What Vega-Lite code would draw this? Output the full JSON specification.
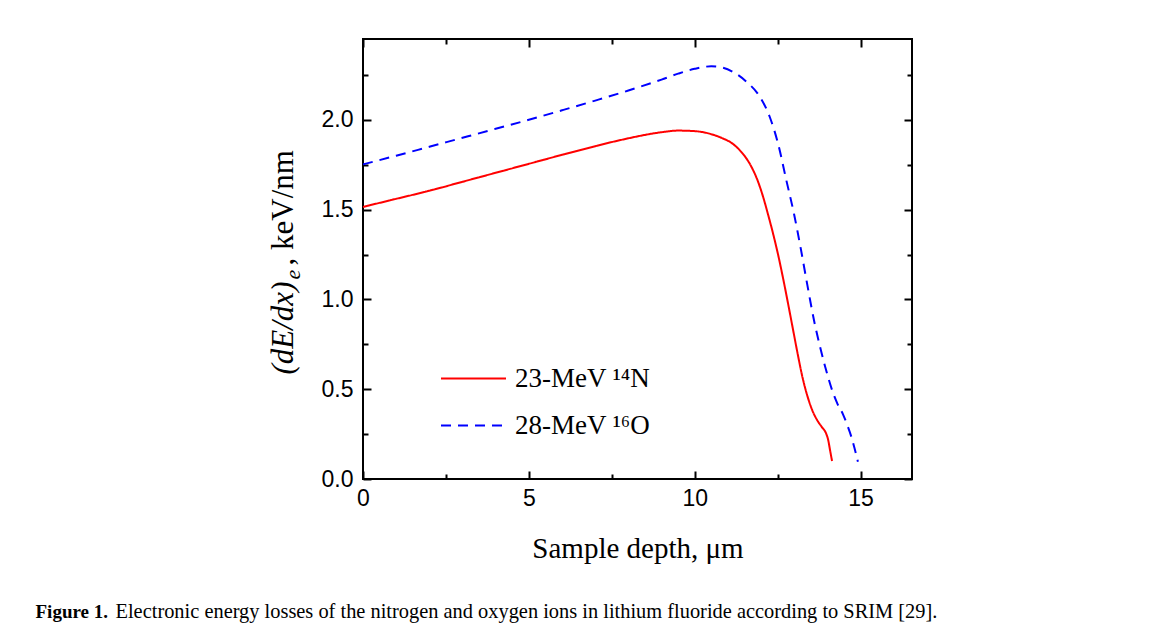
{
  "$schema": "https://vega.github.io/schema/vega-lite/v6.json",
  "width": 549,
  "height": 440,
  "autosize": {"type": "none"},
  "padding": {"left": 363, "top": 39, "right": 241, "bottom": 151},
  "background": "white",
  "config": {
    "view": {"stroke": "black", "strokeWidth": 2},
    "axis": {"grid": false, "domain": false, "tickColor": "black", "tickWidth": 2, "labelColor": "black", "labelFont": "Liberation Sans", "labelFontSize": 23, "labelFlush": false, "labelOverlap": false, "titleColor": "black"}
  },
  "datasets": {
    "curves": [
      {"series": "23-MeV ¹⁴N", "x": 0, "y": 1.515},
      {"series": "23-MeV ¹⁴N", "x": 1, "y": 1.56},
      {"series": "23-MeV ¹⁴N", "x": 2, "y": 1.605},
      {"series": "23-MeV ¹⁴N", "x": 3, "y": 1.655},
      {"series": "23-MeV ¹⁴N", "x": 4, "y": 1.705},
      {"series": "23-MeV ¹⁴N", "x": 5, "y": 1.755},
      {"series": "23-MeV ¹⁴N", "x": 6, "y": 1.805},
      {"series": "23-MeV ¹⁴N", "x": 7, "y": 1.853},
      {"series": "23-MeV ¹⁴N", "x": 7.5, "y": 1.876},
      {"series": "23-MeV ¹⁴N", "x": 8, "y": 1.897},
      {"series": "23-MeV ¹⁴N", "x": 8.5, "y": 1.916},
      {"series": "23-MeV ¹⁴N", "x": 9, "y": 1.931},
      {"series": "23-MeV ¹⁴N", "x": 9.5, "y": 1.94},
      {"series": "23-MeV ¹⁴N", "x": 10, "y": 1.937},
      {"series": "23-MeV ¹⁴N", "x": 10.5, "y": 1.92},
      {"series": "23-MeV ¹⁴N", "x": 10.8, "y": 1.9},
      {"series": "23-MeV ¹⁴N", "x": 11.15, "y": 1.866},
      {"series": "23-MeV ¹⁴N", "x": 11.4, "y": 1.822},
      {"series": "23-MeV ¹⁴N", "x": 11.66, "y": 1.755},
      {"series": "23-MeV ¹⁴N", "x": 11.9, "y": 1.66},
      {"series": "23-MeV ¹⁴N", "x": 12.06, "y": 1.572},
      {"series": "23-MeV ¹⁴N", "x": 12.2, "y": 1.48},
      {"series": "23-MeV ¹⁴N", "x": 12.35, "y": 1.375},
      {"series": "23-MeV ¹⁴N", "x": 12.5, "y": 1.26},
      {"series": "23-MeV ¹⁴N", "x": 12.65, "y": 1.13},
      {"series": "23-MeV ¹⁴N", "x": 12.8, "y": 0.99},
      {"series": "23-MeV ¹⁴N", "x": 12.95, "y": 0.845},
      {"series": "23-MeV ¹⁴N", "x": 13.1, "y": 0.7},
      {"series": "23-MeV ¹⁴N", "x": 13.25, "y": 0.565},
      {"series": "23-MeV ¹⁴N", "x": 13.4, "y": 0.46},
      {"series": "23-MeV ¹⁴N", "x": 13.55, "y": 0.38},
      {"series": "23-MeV ¹⁴N", "x": 13.7, "y": 0.325},
      {"series": "23-MeV ¹⁴N", "x": 13.85, "y": 0.285},
      {"series": "23-MeV ¹⁴N", "x": 13.95, "y": 0.258},
      {"series": "23-MeV ¹⁴N", "x": 14.02, "y": 0.22},
      {"series": "23-MeV ¹⁴N", "x": 14.08, "y": 0.16},
      {"series": "23-MeV ¹⁴N", "x": 14.14, "y": 0.1},
      {"series": "28-MeV ¹⁶O", "x": 0, "y": 1.752},
      {"series": "28-MeV ¹⁶O", "x": 1, "y": 1.8},
      {"series": "28-MeV ¹⁶O", "x": 2, "y": 1.85},
      {"series": "28-MeV ¹⁶O", "x": 3, "y": 1.9},
      {"series": "28-MeV ¹⁶O", "x": 4, "y": 1.95},
      {"series": "28-MeV ¹⁶O", "x": 5, "y": 2.0},
      {"series": "28-MeV ¹⁶O", "x": 6, "y": 2.053},
      {"series": "28-MeV ¹⁶O", "x": 7, "y": 2.107},
      {"series": "28-MeV ¹⁶O", "x": 8, "y": 2.163},
      {"series": "28-MeV ¹⁶O", "x": 9, "y": 2.224},
      {"series": "28-MeV ¹⁶O", "x": 9.5, "y": 2.257},
      {"series": "28-MeV ¹⁶O", "x": 10, "y": 2.284},
      {"series": "28-MeV ¹⁶O", "x": 10.5, "y": 2.298},
      {"series": "28-MeV ¹⁶O", "x": 10.85, "y": 2.29},
      {"series": "28-MeV ¹⁶O", "x": 11.2, "y": 2.262},
      {"series": "28-MeV ¹⁶O", "x": 11.56, "y": 2.212},
      {"series": "28-MeV ¹⁶O", "x": 11.96, "y": 2.129},
      {"series": "28-MeV ¹⁶O", "x": 12.26, "y": 2.017},
      {"series": "28-MeV ¹⁶O", "x": 12.51, "y": 1.869},
      {"series": "28-MeV ¹⁶O", "x": 12.76, "y": 1.665},
      {"series": "28-MeV ¹⁶O", "x": 13.0, "y": 1.47},
      {"series": "28-MeV ¹⁶O", "x": 13.2, "y": 1.28},
      {"series": "28-MeV ¹⁶O", "x": 13.4, "y": 1.075},
      {"series": "28-MeV ¹⁶O", "x": 13.6, "y": 0.88},
      {"series": "28-MeV ¹⁶O", "x": 13.8, "y": 0.72},
      {"series": "28-MeV ¹⁶O", "x": 14.0, "y": 0.58},
      {"series": "28-MeV ¹⁶O", "x": 14.15, "y": 0.49},
      {"series": "28-MeV ¹⁶O", "x": 14.3, "y": 0.42},
      {"series": "28-MeV ¹⁶O", "x": 14.47, "y": 0.36},
      {"series": "28-MeV ¹⁶O", "x": 14.6, "y": 0.3},
      {"series": "28-MeV ¹⁶O", "x": 14.72, "y": 0.236},
      {"series": "28-MeV ¹⁶O", "x": 14.82, "y": 0.17},
      {"series": "28-MeV ¹⁶O", "x": 14.92, "y": 0.096}
    ]
  },
  "data": {"name": "curves"},
  "resolve": {"axis": {"x": "independent", "y": "independent"}},
  "layer": [
    {
      "mark": {"type": "line", "strokeWidth": 2, "interpolate": "monotone"},
      "encoding": {
        "x": {
          "field": "x", "type": "quantitative",
          "scale": {"domain": [0, 16.55], "nice": false, "zero": false},
          "axis": {
            "orient": "bottom",
            "values": [0, 2.5, 5, 7.5, 10, 12.5, 15],
            "labelExpr": "datum.value % 5 === 0 ? format(datum.value, 'd') : ''",
            "tickSize": {"condition": {"test": "datum.value % 5 === 0", "value": -8}, "value": -5},
            "labelPadding": 16,
            "title": "Sample depth, μm",
            "titleFont": "Liberation Serif", "titleFontSize": 29, "titleFontWeight": "normal",
            "titleX": 274.5, "titleY": 78, "titleAlign": "center", "titleBaseline": "alphabetic"
          }
        },
        "y": {
          "field": "y", "type": "quantitative",
          "scale": {"domain": [0, 2.45], "nice": false, "zero": false},
          "axis": {
            "orient": "left",
            "values": [0, 0.25, 0.5, 0.75, 1, 1.25, 1.5, 1.75, 2, 2.25],
            "labelExpr": "datum.value % 0.5 === 0 ? format(datum.value, '.1f') : ''",
            "tickSize": {"condition": {"test": "datum.value % 0.5 === 0", "value": -8}, "value": -5},
            "labelPadding": 18,
            "title": null
          }
        },
        "color": {
          "field": "series", "type": "nominal",
          "scale": {"domain": ["23-MeV ¹⁴N", "28-MeV ¹⁶O"], "range": ["#ff0000", "#0000ff"]},
          "legend": {"orient": "none", "legendX": 77, "legendY": 306, "title": null, "symbolType": "stroke", "symbolSize": 4225, "symbolStrokeWidth": 2, "labelFont": "Liberation Serif", "labelFontSize": 27, "labelColor": "black", "labelOffset": 8, "rowPadding": 0, "padding": 0}
        },
        "strokeDash": {
          "field": "series", "type": "nominal",
          "scale": {"domain": ["23-MeV ¹⁴N", "28-MeV ¹⁶O"], "range": [[1, 0], [10, 7]]},
          "legend": {"orient": "none", "legendX": 77, "legendY": 306, "title": null, "symbolType": "stroke", "symbolSize": 4225, "symbolStrokeWidth": 2, "labelFont": "Liberation Serif", "labelFontSize": 27, "labelColor": "black", "labelOffset": 8, "rowPadding": 0, "padding": 0}
        }
      }
    },
    {
      "mark": {"type": "line", "strokeOpacity": 0},
      "encoding": {
        "x": {
          "field": "x", "type": "quantitative",
          "scale": {"domain": [0, 16.55], "nice": false, "zero": false},
          "axis": {"orient": "top", "values": [0, 2.5, 5, 7.5, 10, 12.5, 15], "labels": false, "title": null,
            "tickSize": {"condition": {"test": "datum.value % 5 === 0", "value": -8}, "value": -5}}
        },
        "y": {
          "field": "y", "type": "quantitative",
          "scale": {"domain": [0, 2.45], "nice": false, "zero": false},
          "axis": {"orient": "right", "values": [0, 0.25, 0.5, 0.75, 1, 1.25, 1.5, 1.75, 2, 2.25], "labels": false, "title": null,
            "tickSize": {"condition": {"test": "datum.value % 0.5 === 0", "value": -8}, "value": -5}}
        }
      }
    },
    {
      "mark": {"type": "line", "strokeOpacity": 0},
      "encoding": {
        "x": {
          "field": "x", "type": "quantitative",
          "scale": {"domain": [0, 16.55], "nice": false, "zero": false},
          "axis": {"orient": "bottom", "labels": false, "ticks": false, "title": "Figure 1.",
            "titleFont": "Liberation Serif", "titleFontSize": 19, "titleFontWeight": "bold",
            "titleX": -328, "titleY": 138, "titleAlign": "left", "titleBaseline": "alphabetic"}
        },
        "y": {
          "field": "y", "type": "quantitative",
          "scale": {"domain": [0, 2.45], "nice": false, "zero": false},
          "axis": {"orient": "left", "labels": false, "ticks": false, "title": "(dE/dx)",
            "titleFont": "Liberation Serif", "titleFontSize": 31, "titleFontStyle": "italic", "titleFontWeight": "normal",
            "titleAngle": 270, "titleX": -71, "titleY": 335, "titleAlign": "left", "titleBaseline": "alphabetic"}
        }
      }
    },
    {
      "mark": {"type": "line", "strokeOpacity": 0},
      "encoding": {
        "x": {
          "field": "x", "type": "quantitative",
          "scale": {"domain": [0, 16.55], "nice": false, "zero": false},
          "axis": {"orient": "bottom", "labels": false, "ticks": false, "title": "Electronic energy losses of the nitrogen and oxygen ions in lithium fluoride according to SRIM [29].",
            "titleFont": "Liberation Serif", "titleFontSize": 20.4, "titleFontWeight": "normal",
            "titleX": -248, "titleY": 138, "titleAlign": "left", "titleBaseline": "alphabetic"}
        },
        "y": {
          "field": "y", "type": "quantitative",
          "scale": {"domain": [0, 2.45], "nice": false, "zero": false},
          "axis": {"orient": "left", "labels": false, "ticks": false, "title": "e",
            "titleFont": "Liberation Serif", "titleFontSize": 22, "titleFontStyle": "italic", "titleFontWeight": "normal",
            "titleAngle": 270, "titleX": -64, "titleY": 240, "titleAlign": "left", "titleBaseline": "alphabetic"}
        }
      }
    },
    {
      "mark": {"type": "line", "strokeOpacity": 0},
      "encoding": {
        "x": {
          "field": "x", "type": "quantitative",
          "scale": {"domain": [0, 16.55], "nice": false, "zero": false},
          "axis": null
        },
        "y": {
          "field": "y", "type": "quantitative",
          "scale": {"domain": [0, 2.45], "nice": false, "zero": false},
          "axis": {"orient": "left", "labels": false, "ticks": false, "title": ", keV/nm",
            "titleFont": "Liberation Serif", "titleFontSize": 31, "titleFontWeight": "normal",
            "titleAngle": 270, "titleX": -71, "titleY": 226, "titleAlign": "left", "titleBaseline": "alphabetic"}
        }
      }
    }
  ]
}
